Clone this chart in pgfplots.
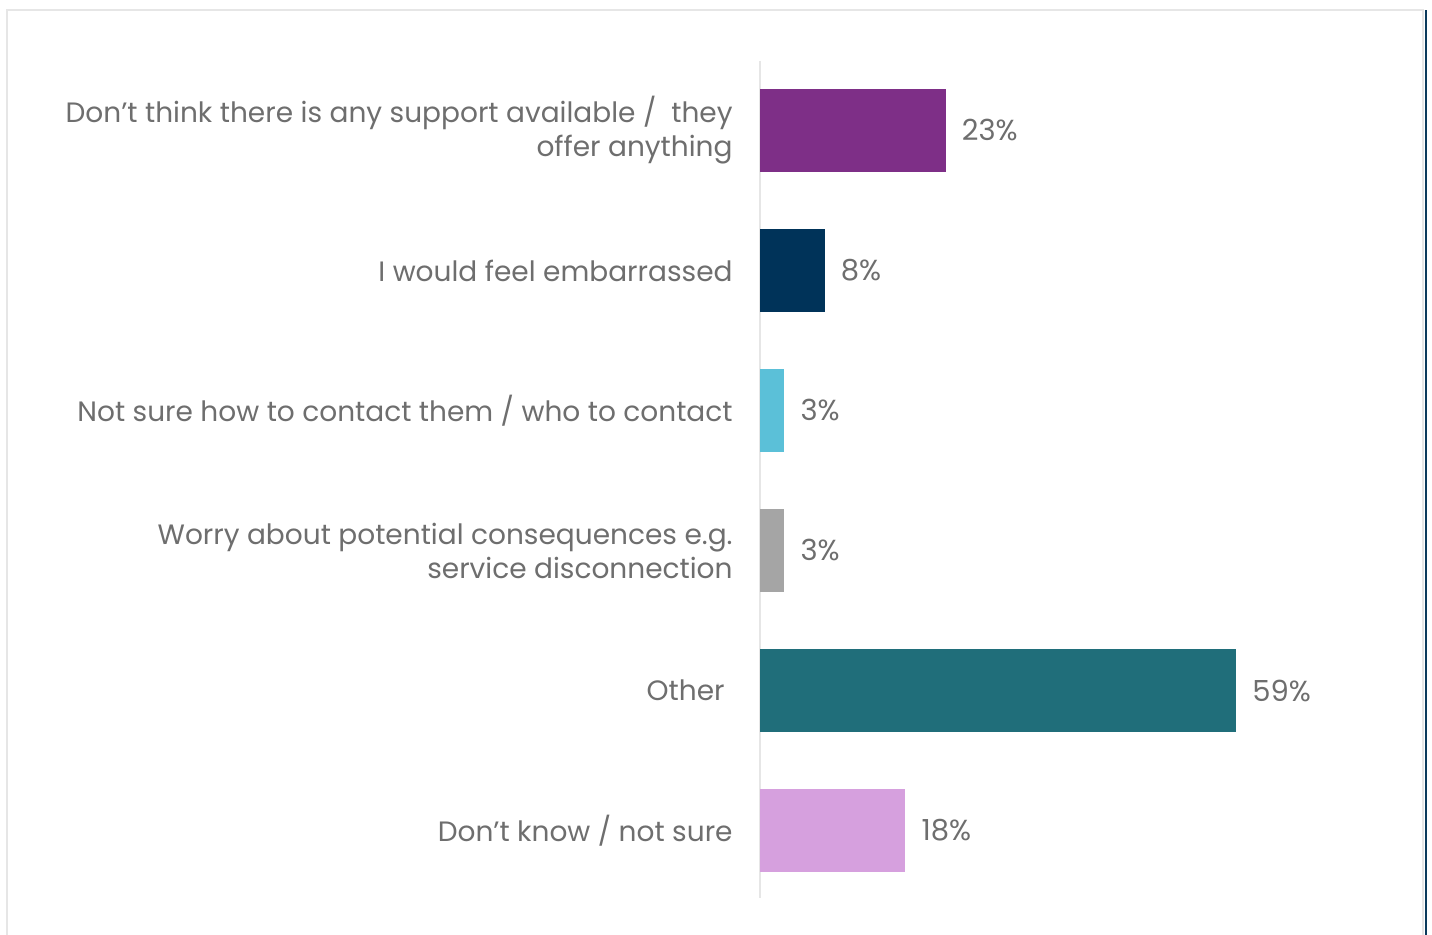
\documentclass[border=0pt]{standalone}
\usepackage{fontspec}
\setmainfont{Poppins}
\usepackage{pgfplots}
\pgfplotsset{compat=1.18}
\definecolor{txt}{HTML}{6E6E6E}
\definecolor{c1}{HTML}{7E2F87}
\definecolor{c2}{HTML}{003359}
\definecolor{c3}{HTML}{5BC0D8}
\definecolor{c4}{HTML}{A5A5A5}
\definecolor{c5}{HTML}{206E7A}
\definecolor{c6}{HTML}{D6A0DE}
\definecolor{frame}{HTML}{E6E6E6}
\definecolor{navy}{HTML}{0B3A5C}
\begin{document}
\begin{tikzpicture}
\path[use as bounding box] (0,0) rectangle (716pt,467.5pt);
\fill[white] (0,0) rectangle (716pt,467.5pt);
\draw[frame, line width=1pt] (3.5pt,0) -- (3.5pt,462.5pt) -- (711.5pt,462.5pt) -- (711.5pt,0);
\draw[navy, line width=1.2pt] (713pt,0) -- (713pt,462.5pt);
\begin{axis}[
  at={(380pt,18.5pt)}, anchor=south west,
  scale only axis, width=330pt, height=418.5pt,
  xbar, bar width=41.5pt, bar shift=0pt,
  xmin=0, xmax=81.8,
  ymin=-0.496, ymax=5.482, y dir=reverse,
  axis x line=none,
  axis y line*=left,
  y axis line style={draw=frame, line width=1pt, -},
  ytick={0,1,2,3,4,5},
  major tick length=0pt,
  yticklabels={{Don’t think there is any support available /\ \ they\\offer anything},
    {I would feel embarrassed},
    {Not sure how to contact them / who to contact},
    {Worry about potential consequences e.g.\\service disconnection},
    {Other\hspace{4pt}},
    {Don’t know / not sure}},
  yticklabel style={align=right, font=\fontsize{14}{17}\selectfont, text=txt, inner xsep=13.5pt},
  point meta=x,
  nodes near coords={\pgfmathprintnumber{\pgfplotspointmeta}\%},
  nodes near coords style={font=\fontsize{14.5}{17}\selectfont, text=txt, inner xsep=8pt},
  /pgf/number format/assume math mode=true,
  clip=false,
]
\addplot[fill=c1, draw=none] coordinates {(23,0)};
\addplot[fill=c2, draw=none] coordinates {(8,1)};
\addplot[fill=c3, draw=none] coordinates {(3,2)};
\addplot[fill=c4, draw=none] coordinates {(3,3)};
\addplot[fill=c5, draw=none] coordinates {(59,4)};
\addplot[fill=c6, draw=none] coordinates {(18,5)};
\end{axis}
\end{tikzpicture}
\end{document}
